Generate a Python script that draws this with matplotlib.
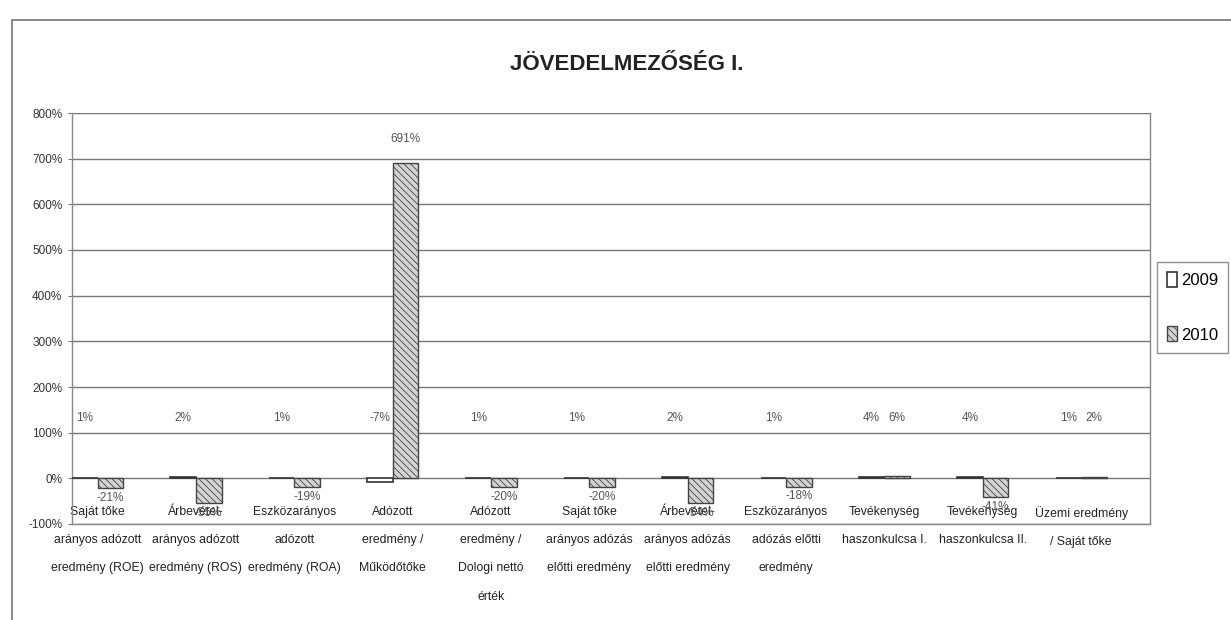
import matplotlib.pyplot as plt
import numpy as np

plt.rcParams['font.family'] = ['Liberation Sans', 'DejaVu Sans']
plt.rcParams['hatch.linewidth'] = 0.6

categories = [
    'Saját tőke\narányos adózott\neredmény (ROE)',
    'Árbevétel-\narányos adózott\neredmény (ROS)',
    'Eszközarányos\nadózott\neredmény (ROA)',
    'Adózott\neredmény /\nMűködőtőke',
    'Adózott\neredmény /\nDologi nettó\nérték',
    'Saját tőke\narányos adózás\nelőtti eredmény',
    'Árbevétel-\narányos adózás\nelőtti eredmény',
    'Eszközarányos\nadózás előtti\neredmény',
    'Tevékenység\nhaszonkulcsa I.',
    'Tevékenység\nhaszonkulcsa II.',
    'Üzemi eredmény\n/ Saját tőke',
]
v2009 = [1, 2, 1, -7, 1, 1, 2, 1, 4, 4, 1]
v2010 = [-21, -55, -19, 691, -20, -20, -54, -18, 6, -41, 2]
yticks = [-100, 0, 100, 200, 300, 400, 500, 600, 700, 800]

fig = plt.figure(figsize=(12.31, 6.2), dpi=100)
ax = fig.add_axes([72/1231, 1-524/620, (1150-72)/1231, (524-113)/620])

# outer chart frame (runs off the right/bottom of the scan)
fig.patches.append(plt.Rectangle((12/1231, -0.05), 1.1, 1-20/620+0.05,
                                 transform=fig.transFigure, fill=False,
                                 edgecolor='#777', linewidth=1.2))

x = np.arange(len(categories))
w = 0.26
ax.bar(x - w/2, v2009, w, color='white', edgecolor='#333', linewidth=1.2, label='2009', zorder=3)
ax.bar(x + w/2, v2010, w, color='#d4d4d4', edgecolor='#444', hatch='\\\\\\\\\\',
       linewidth=1.0, label='2010', zorder=3)

for i in range(len(x)):
    ax.text(x[i] - w/2, max(v2009[i] + 50, 118), f'{v2009[i]}%', ha='center', va='bottom',
            fontsize=8.5, color='#555', zorder=4)
    if v2010[i] >= 0:
        ax.text(x[i] + w/2, max(v2010[i] + 40, 118), f'{v2010[i]}%', ha='center', va='bottom',
                fontsize=8.5, color='#555', zorder=4)
    else:
        ax.text(x[i] + w/2, v2010[i] - 8, f'{v2010[i]}%', ha='center', va='top',
                fontsize=8.5, color='#555', zorder=4)

ax.set_ylim(-100, 800)
ax.set_xlim(-0.26, 10.70)
ax.set_yticks(yticks)
ax.set_yticklabels([f'{t}%' for t in yticks], fontsize=8.5, color='#333')
ax.set_xticks(x)
ax.set_xticklabels(categories, fontsize=8.8, color='#222', linespacing=2.8)
ax.tick_params(axis='x', length=0, pad=-13)
ax.tick_params(axis='y', length=3, color='#777', pad=4)
ax.grid(axis='y', color='#777', linewidth=1.0, zorder=0)
ax.set_axisbelow(True)
ax.spines['top'].set_visible(False)
for s in ['left', 'right', 'bottom']:
    ax.spines[s].set_color('#888')
    ax.spines[s].set_linewidth(1.0)

fig.text(627/1231, 1-65/620, 'JÖVEDELMEZŐSÉG I.', ha='center', va='center',
         fontsize=16, fontweight='bold', color='#222')

leg = fig.legend(loc='upper left', bbox_to_anchor=(1157/1231, 1-262/620), fontsize=12,
                 frameon=True, fancybox=False, edgecolor='#777', handlelength=0.6,
                 handleheight=1.0, handletextpad=0.25, labelspacing=2.3,
                 borderpad=0.6, borderaxespad=0)
leg.get_frame().set_linewidth(1.0)

fig.savefig('out.png', dpi=100)
